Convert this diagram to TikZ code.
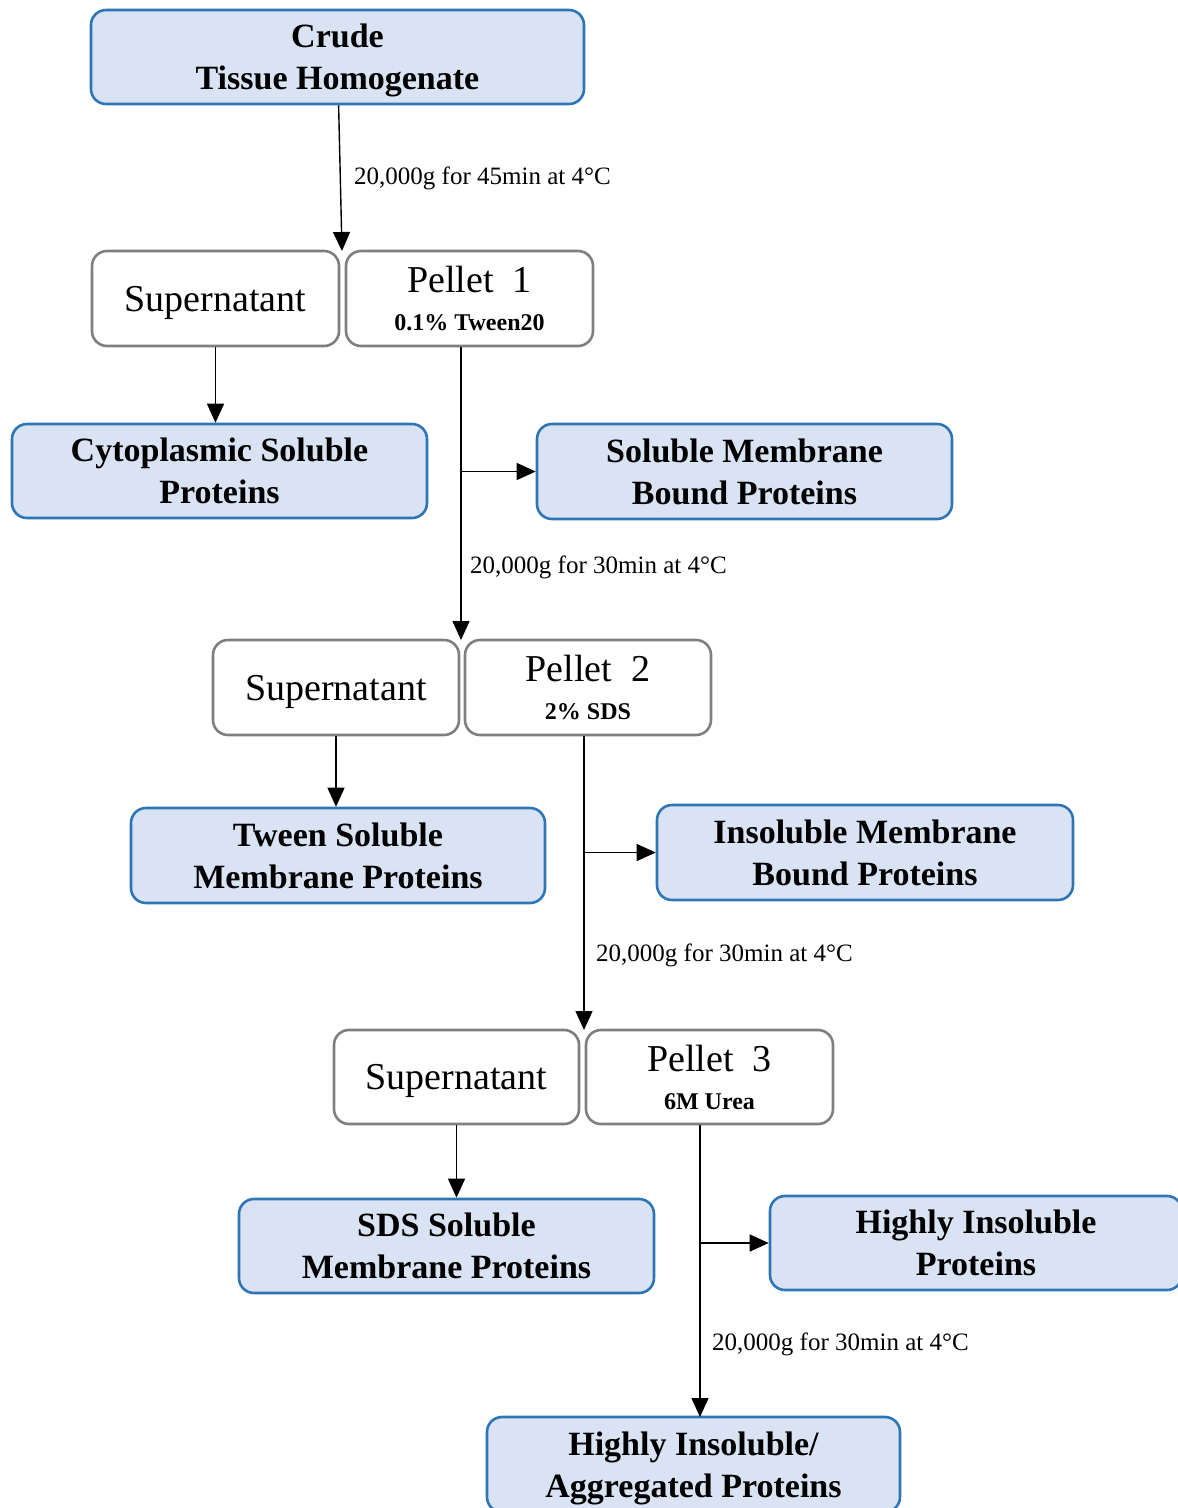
\documentclass[tikz,border=0pt]{standalone}
\usepackage{fontspec}
\setmainfont{Liberation Serif}
\usetikzlibrary{arrows.meta}
\definecolor{boxblue}{HTML}{DAE3F3}
\definecolor{edgeblue}{HTML}{2E75B6}
\definecolor{edgegray}{HTML}{7F7F7F}
\tikzset{
  result/.style={draw=edgeblue, fill=boxblue, line width=2.6pt, rounded corners=15pt,
    inner sep=0pt, align=center, text depth=0pt, font=\fontsize{34}{42}\selectfont\bfseries},
  fraction/.style={draw=edgegray, fill=white, line width=2.6pt, rounded corners=15pt,
    inner sep=0pt, align=center, text depth=0pt, font=\fontsize{38}{40}\selectfont},
  arr/.style={line width=1.4pt, -{Triangle[length=19pt, width=17pt]}},
  spin/.style={anchor=west, inner sep=0pt, font=\fontsize{25}{27}\selectfont}
}
\newcommand{\agent}[1]{{\fontsize{24}{26}\selectfont\bfseries #1}}
\begin{document}
\begin{tikzpicture}[x=1pt, y=-1pt]
\useasboundingbox (0,0) rectangle (1178,1508);
% first spin
\node[result, minimum width=493pt, minimum height=94pt] (crude) at (337.5,57){Crude\\Tissue Homogenate};
\node[fraction, minimum width=247pt, minimum height=95pt] (sup1) at (215.5,298.5){Supernatant};
\node[fraction, minimum width=247pt, minimum height=95pt] (pel1) at (469.5,298.5){Pellet\enspace 1\\[-2pt]\agent{0.1\% Tween20}};
\node[result, minimum width=415pt, minimum height=94pt] (cyto) at (219.5,471){Cytoplasmic Soluble\\Proteins};
\node[result, minimum width=415pt, minimum height=95pt] (smb) at (744.5,471.5){Soluble Membrane\\Bound Proteins};
\coordinate (j1) at (342,251);
\draw[arr](crude) -- (j1);
\node[spin] (spin1) at (354,178){20,000g for 45min at 4°C};
\draw[arr](sup1.south) -- (sup1.south |- cyto.north);
% second spin
\node[fraction, minimum width=246pt, minimum height=95pt] (sup2) at (336,687.5){Supernatant};
\node[fraction, minimum width=246pt, minimum height=95pt] (pel2) at (588,687.5){Pellet\enspace 2\\[-2pt]\agent{2\% SDS}};
\node[result, minimum width=414pt, minimum height=95pt] (tween) at (338,855.5){Tween Soluble\\Membrane Proteins};
\node[result, minimum width=416pt, minimum height=95pt] (imb) at (865,852.5){Insoluble Membrane\\Bound Proteins};
\coordinate (j2) at (461,640);
\draw[arr](pel1.south -| j2) -- (j2);
\draw[arr](j2 |- smb.west) -- (smb.west);
\node[spin] (spin2) at (470,567){20,000g for 30min at 4°C};
\draw[arr](sup2.south) -- (sup2.south |- tween.north);
% third spin
\node[fraction, minimum width=245pt, minimum height=94pt] (sup3) at (456.5,1077){Supernatant};
\node[fraction, minimum width=247pt, minimum height=94pt] (pel3) at (709.5,1077){Pellet\enspace 3\\[-2pt]\agent{6M Urea}};
\node[result, minimum width=415pt, minimum height=94pt] (sds) at (446.5,1246){SDS Soluble\\Membrane Proteins};
\node[result, minimum width=412pt, minimum height=94pt] (hip) at (976,1243){Highly Insoluble\\Proteins};
\coordinate (j3) at (584,1030);
\draw[arr](pel2.south -| j3) -- (j3);
\draw[arr](j3 |- imb.west) -- (imb.west);
\node[spin] (spin3) at (596,955){20,000g for 30min at 4°C};
\draw[arr](sup3.south) -- (sup3.south |- sds.north);
% last spin
\node[result, minimum width=413pt, minimum height=95pt] (agg) at (693.5,1464.5){Highly Insoluble/\\Aggregated Proteins};
\coordinate (j4) at (700,1417);
\draw[arr](pel3.south -| j4) -- (j4);
\draw[arr](j4 |- hip.west) -- (hip.west);
\node[spin] (spin4) at (712,1344){20,000g for 30min at 4°C};
\end{tikzpicture}
\end{document}
